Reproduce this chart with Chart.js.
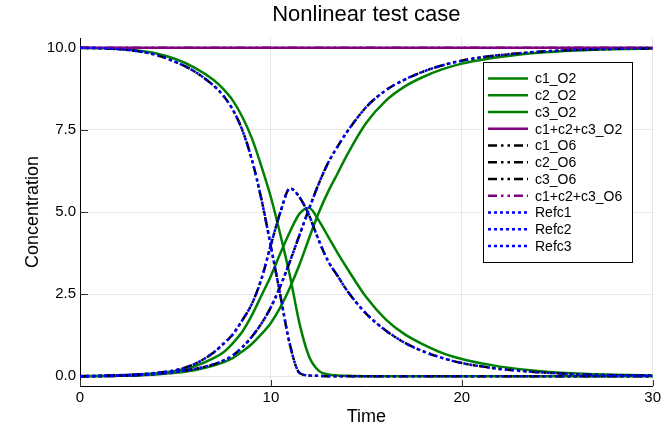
<!DOCTYPE html>
<html>
<head>
<meta charset="utf-8">
<script src="https://cdn.jsdelivr.net/npm/chart.js@4"></script>
<style>
  html, body { margin: 0; padding: 0; background: #fff; }
  #wrap { width: 664px; height: 443px; }
</style>
</head>
<body>
<div id="wrap"><canvas id="myChart" width="664" height="443"></canvas></div>
<script>
// time points
const times = [0, 1, 2, 3, 4, 5, 6, 7, 7.5, 8, 8.5, 9, 9.5, 10, 10.5, 11, 11.5, 12, 12.5, 13, 13.5, 14, 15, 16, 17, 18, 19, 20, 21, 22, 24, 26, 28, 30];

// O2 solution (green)
const c1_O2 = [10, 9.99, 9.97, 9.92, 9.83, 9.66, 9.4, 9.02, 8.75, 8.4, 7.9, 7.25, 6.4, 5.45, 4.3, 3.05, 1.6, 0.6, 0.17, 0.05, 0.02, 0.01, 0, 0, 0, 0, 0, 0, 0, 0, 0, 0, 0, 0];
const c2_O2 = [0, 0.01, 0.02, 0.05, 0.09, 0.16, 0.3, 0.55, 0.72, 1.0, 1.35, 1.85, 2.45, 3.05, 3.75, 4.4, 4.95, 5.12, 4.75, 4.25, 3.75, 3.28, 2.4, 1.74, 1.28, 0.96, 0.7, 0.52, 0.39, 0.29, 0.16, 0.08, 0.04, 0.02];
const c3_O2 = [0, 0, 0.01, 0.02, 0.05, 0.1, 0.18, 0.32, 0.42, 0.55, 0.75, 0.98, 1.28, 1.62, 2.1, 2.7, 3.4, 4.2, 4.97, 5.62, 6.18, 6.75, 7.72, 8.38, 8.82, 9.12, 9.35, 9.52, 9.63, 9.72, 9.85, 9.92, 9.96, 9.98];
const sum_O2 = [10, 10, 10, 10, 10, 10, 10, 10, 10, 10, 10, 10, 10, 10, 10, 10, 10, 10, 10, 10, 10, 10, 10, 10, 10, 10, 10, 10, 10, 10, 10, 10, 10, 10];

// O6 solution (black dash-dot)
const c1_O6 = [10, 9.99, 9.96, 9.9, 9.78, 9.57, 9.28, 8.85, 8.55, 8.12, 7.5, 6.6, 5.4, 3.95, 2.45, 0.95, 0.1, 0.02, 0.01, 0, 0, 0, 0, 0, 0, 0, 0, 0, 0, 0, 0, 0, 0, 0];
const c2_O6 = [0, 0.01, 0.03, 0.05, 0.1, 0.18, 0.37, 0.72, 0.98, 1.27, 1.7, 2.2, 2.95, 4.0, 5.0, 5.72, 5.45, 4.9, 4.15, 3.5, 3.05, 2.6, 1.9, 1.4, 1.02, 0.75, 0.55, 0.4, 0.3, 0.22, 0.12, 0.06, 0.03, 0.02];
const c3_O6 = [0, 0, 0.01, 0.03, 0.07, 0.13, 0.22, 0.36, 0.47, 0.63, 0.88, 1.2, 1.6, 2.1, 2.75, 3.5, 4.3, 5.1, 5.85, 6.5, 7.0, 7.45, 8.2, 8.7, 9.03, 9.28, 9.47, 9.61, 9.71, 9.78, 9.88, 9.94, 9.97, 9.98];
const sum_O6 = [10, 10, 10, 10, 10, 10, 10, 10, 10, 10, 10, 10, 10, 10, 10, 10, 10, 10, 10, 10, 10, 10, 10, 10, 10, 10, 10, 10, 10, 10, 10, 10, 10, 10];

// reference solution (blue dotted)
const refc1 = [10, 9.99, 9.96, 9.9, 9.78, 9.57, 9.28, 8.85, 8.55, 8.12, 7.5, 6.6, 5.4, 3.95, 2.45, 0.95, 0.1, 0.02, 0.01, 0, 0, 0, 0, 0, 0, 0, 0, 0, 0, 0, 0, 0, 0, 0];
const refc2 = [0, 0.01, 0.03, 0.05, 0.1, 0.18, 0.37, 0.72, 0.98, 1.27, 1.7, 2.2, 2.95, 4.0, 5.0, 5.72, 5.45, 4.9, 4.15, 3.5, 3.05, 2.6, 1.9, 1.4, 1.02, 0.75, 0.55, 0.4, 0.3, 0.22, 0.12, 0.06, 0.03, 0.02];
const refc3 = [0, 0, 0.01, 0.03, 0.07, 0.13, 0.22, 0.36, 0.47, 0.63, 0.88, 1.2, 1.6, 2.1, 2.75, 3.5, 4.3, 5.1, 5.85, 6.5, 7.0, 7.45, 8.2, 8.7, 9.03, 9.28, 9.47, 9.61, 9.71, 9.78, 9.88, 9.94, 9.97, 9.98];

const xTicks = [0, 10, 20, 30];
const yTicks = [0, 2.5, 5, 7.5, 10];
const yTickLabels = ["0.0", "2.5", "5.0", "7.5", "10.0"];

const FONT = "'Liberation Sans', Arial, Helvetica, sans-serif";
const GREEN = "#008000";
const PURPLE = "#800080";
const BLUE = "#0000ff";
const DASHDOTDOT = [9, 4, 2.5, 4, 2.5, 4];
const DOT = [3, 3];

const pts = (ys) => times.map((t, i) => ({ x: t, y: ys[i] }));

function line(label, ys, color, dash, order) {
  return {
    label: label,
    data: pts(ys),
    borderColor: color,
    backgroundColor: color,
    borderWidth: 2.5,
    borderDash: dash,
    pointRadius: 0,
    fill: false,
    cubicInterpolationMode: "monotone",
    order: order,
  };
}

const datasets = [
  line("c1_O2", c1_O2, GREEN, [], 5),
  line("c2_O2", c2_O2, GREEN, [], 5),
  line("c3_O2", c3_O2, GREEN, [], 5),
  line("c1+c2+c3_O2", sum_O2, PURPLE, [], 4),
  line("c1_O6", c1_O6, "#000000", DASHDOTDOT, 3),
  line("c2_O6", c2_O6, "#000000", DASHDOTDOT, 3),
  line("c3_O6", c3_O6, "#000000", DASHDOTDOT, 3),
  line("c1+c2+c3_O6", sum_O6, PURPLE, DASHDOTDOT, 2),
  line("Refc1", refc1, BLUE, DOT, 1),
  line("Refc2", refc2, BLUE, DOT, 1),
  line("Refc3", refc3, BLUE, DOT, 1),
];

// title, axis labels, inner tick marks and the boxed legend
const decorations = {
  id: "decorations",
  beforeDatasetsDraw(chart) {
    const { ctx, chartArea, scales } = chart;
    ctx.save();
    ctx.strokeStyle = "#333";
    ctx.lineWidth = 1;
    yTicks.forEach((v) => {
      const y = Math.round(scales.y.getPixelForValue(v)) + 0.5;
      ctx.beginPath();
      ctx.moveTo(chartArea.left, y);
      ctx.lineTo(chartArea.left + 8, y);
      ctx.stroke();
    });
    xTicks.forEach((v) => {
      const x = Math.round(scales.x.getPixelForValue(v)) + 0.5;
      ctx.beginPath();
      ctx.moveTo(x, chartArea.bottom);
      ctx.lineTo(x, chartArea.bottom - 6);
      ctx.stroke();
    });
    ctx.restore();
  },
  afterDraw(chart) {
    const { ctx, chartArea } = chart;
    const cx = (chartArea.left + chartArea.right) / 2;
    ctx.save();
    ctx.fillStyle = "#000";
    ctx.textAlign = "center";
    ctx.textBaseline = "middle";
    ctx.font = "22px " + FONT;
    ctx.fillText("Nonlinear test case", cx, 15);
    ctx.font = "18px " + FONT;
    ctx.fillText("Time", cx, 417);
    ctx.save();
    ctx.translate(33, (chartArea.top + chartArea.bottom) / 2);
    ctx.rotate(-Math.PI / 2);
    ctx.fillText("Concentration", 0, 0);
    ctx.restore();

    // legend
    const bx = 483, by = 62, bw = 149, bh = 200;
    ctx.fillStyle = "#fff";
    ctx.fillRect(bx, by, bw, bh);
    ctx.strokeStyle = "#000";
    ctx.lineWidth = 1;
    ctx.strokeRect(bx + 0.5, by + 0.5, bw, bh);
    ctx.font = "14px " + FONT;
    ctx.textAlign = "left";
    datasets.forEach((ds, i) => {
      const y = 78.5 + i * 16.75;
      ctx.strokeStyle = ds.borderColor;
      ctx.lineWidth = 2.5;
      ctx.setLineDash(ds.borderDash);
      ctx.beginPath();
      ctx.moveTo(488, y);
      ctx.lineTo(528, y);
      ctx.stroke();
      ctx.setLineDash([]);
      ctx.fillStyle = "#000";
      ctx.fillText(ds.label, 535, y + 1);
    });
    ctx.restore();
  },
};

const ctx = document.getElementById("myChart");

new Chart(ctx, {
  type: "line",
  data: { datasets: datasets },
  options: {
    responsive: false,
    animation: false,
    devicePixelRatio: 1,
    layout: { padding: { top: 38, right: 11, left: 0, bottom: 0 } },
    plugins: {
      legend: { display: false },
      title: { display: false },
      tooltip: { enabled: false },
    },
    scales: {
      x: {
        type: "linear",
        min: 0,
        max: 30,
        afterFit: (scale) => { scale.height = 57; },
        afterBuildTicks: (scale) => { scale.ticks = xTicks.map((v) => ({ value: v })); },
        grid: { color: "rgba(0,0,0,0.09)", drawTicks: false },
        border: { color: "#000", width: 1 },
        ticks: {
          padding: 3,
          maxRotation: 0,
          color: "#000",
          font: { family: FONT, size: 15 },
          callback: (v) => String(v),
        },
      },
      y: {
        min: -0.3,
        max: 10.3,
        afterFit: (scale) => { scale.width = 80; },
        afterBuildTicks: (scale) => { scale.ticks = yTicks.map((v) => ({ value: v })); },
        grid: { color: "rgba(0,0,0,0.09)", drawTicks: false },
        border: { color: "#000", width: 1 },
        ticks: {
          padding: 4,
          color: "#000",
          font: { family: FONT, size: 15 },
          callback: (v) => yTickLabels[yTicks.indexOf(v)],
        },
      },
    },
  },
  plugins: [decorations],
});
</script>
</body>
</html>
